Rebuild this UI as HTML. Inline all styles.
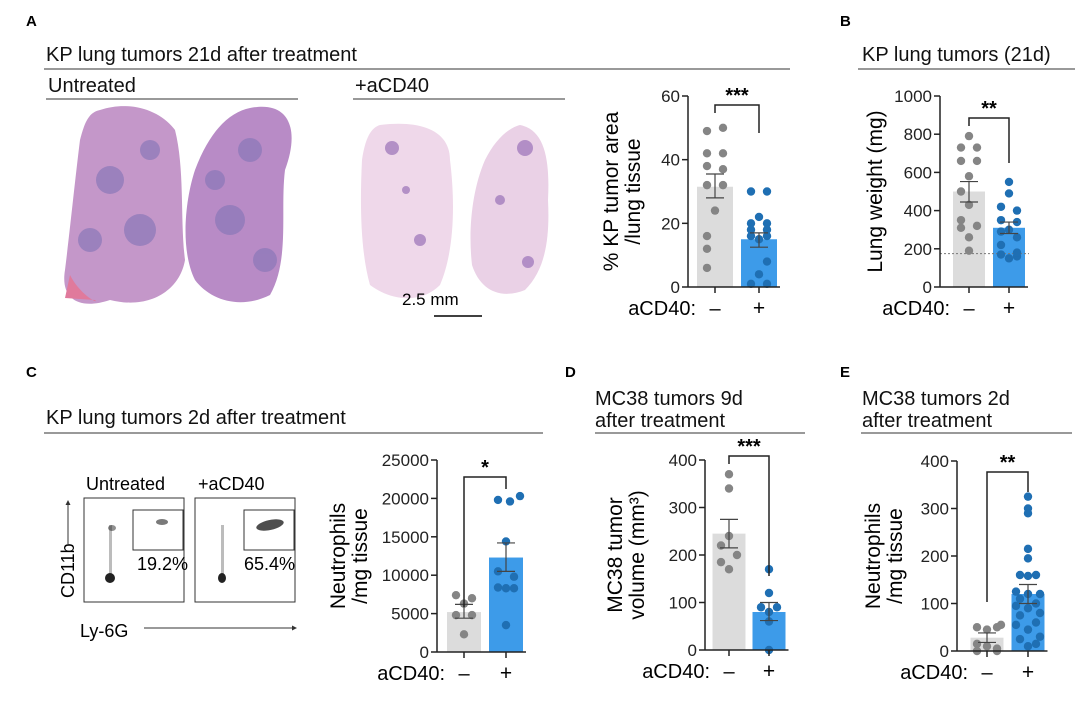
<!DOCTYPE html>
<html><head><meta charset="utf-8"><style>
html,body{margin:0;padding:0;background:#fff;}
svg{display:block;font-family:"Liberation Sans",sans-serif;}
</style></head><body>
<svg id="s" width="1080" height="707" xmlns="http://www.w3.org/2000/svg">
<rect width="1080" height="707" fill="#fff"/>
<g font-weight="bold" font-size="15">
<text x="26" y="26">A</text><text x="840" y="26">B</text><text x="26" y="377">C</text><text x="565" y="377">D</text><text x="840" y="377">E</text>
</g>
<g font-size="20" fill="#111">
<text x="46" y="61">KP lung tumors 21d after treatment</text>
<text x="48" y="92">Untreated</text>
<text x="355" y="92">+aCD40</text>
<text x="862" y="61">KP lung tumors (21d)</text>
<text x="46" y="424">KP lung tumors 2d after treatment</text>
<text x="595" y="405">MC38 tumors 9d</text><text x="595" y="427">after treatment</text>
<text x="862" y="405">MC38 tumors 2d</text><text x="862" y="427">after treatment</text>
</g>
<g stroke="#333" stroke-width="1">
<line x1="44" y1="69" x2="790" y2="69"/>
<line x1="46" y1="99" x2="298" y2="99"/>
<line x1="353" y1="99" x2="565" y2="99"/>
<line x1="858" y1="69" x2="1075" y2="69"/>
<line x1="44" y1="433" x2="543" y2="433"/>
<line x1="595" y1="433" x2="805" y2="433"/>
<line x1="861" y1="433" x2="1072" y2="433"/>
</g>
<!-- lungs -->
<g>
<path d="M100 110 C130 100 160 110 175 130 C185 170 180 220 185 260 C180 290 150 310 110 300 C80 310 60 300 65 270 C70 230 75 180 80 140 C85 120 90 112 100 110Z" fill="#c497c9"/>
<path d="M250 108 C290 100 300 130 285 170 C280 210 290 260 270 295 C240 310 210 300 195 280 C180 250 185 200 195 170 C210 130 230 112 250 108Z" fill="#b88bc6"/>
<path d="M70 275 C80 295 100 305 95 300 L65 298Z" fill="#e07a9c"/>
<g fill="#8a78b8" opacity="0.7">
<circle cx="110" cy="180" r="14"/><circle cx="140" cy="230" r="16"/><circle cx="90" cy="240" r="12"/><circle cx="150" cy="150" r="10"/>
<circle cx="250" cy="150" r="12"/><circle cx="230" cy="220" r="15"/><circle cx="265" cy="260" r="12"/><circle cx="215" cy="180" r="10"/>
</g>
<path d="M380 125 C420 120 450 130 450 160 C455 200 455 250 440 285 C420 305 390 300 370 285 C360 250 360 200 362 160 C365 140 370 128 380 125Z" fill="#efd8ea"/>
<path d="M520 125 C545 130 550 160 548 200 C550 240 545 270 525 290 C500 300 480 290 472 265 C468 230 472 190 485 160 C495 140 508 128 520 125Z" fill="#ead1e6"/>
<g fill="#9a72b8" opacity="0.7">
<circle cx="392" cy="148" r="7"/><circle cx="420" cy="240" r="6"/><circle cx="525" cy="148" r="8"/><circle cx="500" cy="200" r="5"/><circle cx="528" cy="262" r="6"/><circle cx="406" cy="190" r="4"/>
</g>
</g>
<text x="402" y="305" font-size="17">2.5 mm</text>
<line x1="434" y1="316" x2="482" y2="316" stroke="#000" stroke-width="1.5"/>
<!-- flow -->
<g fill="none" stroke="#333">
<rect x="84" y="498" width="100" height="104"/>
<rect x="195" y="498" width="100" height="104"/>
<rect x="133" y="510" width="50" height="40"/>
<rect x="244" y="510" width="50" height="40"/>
</g>
<g font-size="18">
<text x="86" y="490">Untreated</text><text x="198" y="490">+aCD40</text>
<text x="137" y="570">19.2%</text><text x="244" y="570">65.4%</text>
<text x="74" y="598" transform="rotate(-90 74 598)">CD11b</text>
<text x="80" y="637">Ly-6G</text>
</g>
<line x1="144" y1="628" x2="295" y2="628" stroke="#333"/>
<path d="M297 628 l-5 -2.5 v5z" fill="#333"/>
<line x1="68" y1="544" x2="68" y2="504" stroke="#333"/>
<path d="M68 500 l-2.5 5 h5z" fill="#333"/>
<g fill="#222">
<ellipse cx="110" cy="578" rx="5" ry="5"/><ellipse cx="112" cy="528" rx="4" ry="3" opacity="0.5"/><rect x="109" y="525" width="3" height="50" opacity="0.3"/>
<ellipse cx="162" cy="522" rx="6" ry="3" opacity="0.6"/>
<ellipse cx="222" cy="578" rx="4" ry="5"/><rect x="221" y="525" width="3" height="50" opacity="0.3"/>
<ellipse cx="270" cy="525" rx="14" ry="5" opacity="0.8" transform="rotate(-12 270 525)"/>
</g>
<g id="charts"></g>
</svg>
<script>
var ns="http://www.w3.org/2000/svg",G=document.getElementById("charts");
function el(t,a,txt){var e=document.createElementNS(ns,t);for(var k in a)e.setAttribute(k,a[k]);if(txt!==undefined)e.textContent=txt;G.appendChild(e);return e;}
function chart(o){
 var sy=function(v){return o.yb-(v/o.max)*(o.yb-o.yt);};
 var g1=o.gx, g2=o.bx, w=o.bw;
 el("rect",{x:g1-w/2,y:sy(o.gm),width:w,height:o.yb-sy(o.gm),fill:"#dcdcdc"});
 el("rect",{x:g2-w/2,y:sy(o.bm),width:w,height:o.yb-sy(o.bm),fill:"#3d9be9"});
 if(o.dot!==undefined) el("line",{x1:o.ax,x2:g2+w/2+4,y1:sy(o.dot),y2:sy(o.dot),stroke:"#777","stroke-dasharray":"2,2"});
 o.gd.forEach(function(d){el("circle",{cx:g1+d[1],cy:sy(d[0]),r:4.2,fill:"#858585"});});
 o.bd.forEach(function(d){el("circle",{cx:g2+d[1],cy:sy(d[0]),r:4.2,fill:"#1f6fb3"});});
 [[g1,o.gs],[g2,o.bs]].forEach(function(p){var a=sy(p[1][0]),b=sy(p[1][1]);
  el("line",{x1:p[0],x2:p[0],y1:a,y2:b,stroke:"#444","stroke-width":1.2});
  el("line",{x1:p[0]-9,x2:p[0]+9,y1:a,y2:a,stroke:"#444","stroke-width":1.2});
  el("line",{x1:p[0]-9,x2:p[0]+9,y1:b,y2:b,stroke:"#444","stroke-width":1.2});});
 el("line",{x1:o.ax,x2:o.ax,y1:o.yt,y2:o.yb,stroke:"#222","stroke-width":1.5});
 el("line",{x1:o.ax,x2:g2+w/2+3,y1:o.yb,y2:o.yb,stroke:"#222","stroke-width":1.5});
 [g1,g2].forEach(function(x){el("line",{x1:x,x2:x,y1:o.yb,y2:o.yb+6,stroke:"#222","stroke-width":1.5});});
 o.ticks.forEach(function(t){var y=sy(t);el("line",{x1:o.ax-6,x2:o.ax,y1:y,y2:y,stroke:"#222","stroke-width":1.5});
  el("text",{x:o.ax-8,y:y+6,"font-size":17,"text-anchor":"end",fill:"#222"},String(t));});
 el("text",{x:g1,y:o.yb+28,"font-size":20,"text-anchor":"middle"},"\u2013");
 el("text",{x:g2,y:o.yb+28,"font-size":21,"text-anchor":"middle"},"+");
 el("text",{x:g1-19,y:o.yb+28,"font-size":20,"text-anchor":"end"},"aCD40:");
 var by=o.bky;
 el("path",{d:"M"+g1+" "+(by+o.bkl)+"V"+by+"H"+g2+"V"+(by+o.bkr),fill:"none",stroke:"#222","stroke-width":1.5});
 el("text",{x:(g1+g2)/2,y:by-3,"font-size":20,"font-weight":"bold","text-anchor":"middle"},o.star);
 o.lab.forEach(function(l,i){var x=o.labx+i*22,y=(o.yt+o.yb)/2;
  el("text",{x:x,y:y,"font-size":21,"text-anchor":"middle",transform:"rotate(-90 "+x+" "+y+")"},l);});
}
chart({ax:688,yt:96,yb:287,max:60,ticks:[0,20,40,60],gx:715,bx:759,bw:36,gm:31.5,bm:15,gs:[28,35.5],bs:[12.5,17],
 gd:[[49,-8],[50,8],[42,-8],[42,8],[38,-8],[37,8],[32,-8],[32,8],[24,0],[16,-8],[12,-8],[6,-8]],
 bd:[[30,-8],[30,8],[22,0],[20,-8],[20,8],[18,-8],[18,8],[16,-8],[16,8],[15,0],[4,0],[1,-8],[1,8],[8,8]],
 bky:105,bkl:8,bkr:28,star:"***",lab:["% KP tumor area","/lung tissue"],labx:618});
chart({ax:940,yt:96,yb:287,max:1000,ticks:[0,200,400,600,800,1000],gx:969,bx:1009,bw:32,gm:500,bm:310,gs:[445,552],bs:[280,340],dot:175,
 gd:[[790,0],[730,-8],[730,8],[660,-8],[660,8],[580,0],[500,-8],[430,0],[350,-8],[320,8],[310,-8],[260,0],[190,0]],
 bd:[[550,0],[490,0],[420,-8],[400,8],[350,-8],[340,8],[300,0],[290,-8],[260,8],[220,-8],[170,-8],[160,8],[150,0],[180,8]],
 bky:118,bkl:8,bkr:45,star:"**",lab:["Lung weight (mg)"],labx:882});
chart({ax:437,yt:460,yb:652,max:25000,ticks:[0,5000,10000,15000,20000,25000],gx:464,bx:506,bw:34,gm:5200,bm:12300,gs:[4400,6200],bs:[10500,14200],
 gd:[[7400,-8],[7000,8],[6300,0],[4800,-8],[4800,8],[2300,0]],
 bd:[[20300,14],[19800,-8],[19600,4],[14400,0],[10500,-8],[9800,8],[8400,-8],[8300,8],[8300,0],[3500,0]],
 bky:477,bkl:130,bkr:12,star:"*",lab:["Neutrophils","/mg tissue"],labx:345});
chart({ax:705,yt:460,yb:650,max:400,ticks:[0,100,200,300,400],gx:729,bx:769,bw:33,gm:245,bm:80,gs:[215,275],bs:[62,100],
 gd:[[370,0],[340,0],[240,0],[220,-8],[200,8],[185,-8],[170,0]],
 bd:[[170,0],[120,0],[90,-8],[90,8],[80,0],[60,0],[0,0]],
 bky:456,bkl:8,bkr:120,star:"***",lab:["MC38 tumor","volume (mm\u00b3)"],labx:622});
chart({ax:957,yt:461,yb:651,max:400,ticks:[0,100,200,300,400],gx:987,bx:1028,bw:33,gm:28,bm:120,gs:[18,38],bs:[100,140],
 gd:[[50,-10],[45,0],[50,10],[55,14],[15,-10],[10,0],[5,10],[0,-10],[0,10]],
 bd:[[325,0],[300,0],[290,0],[215,0],[195,0],[160,-8],[160,8],[158,0],[125,-12],[120,0],[120,12],[110,-8],[100,8],[95,-12],[90,0],[80,12],[75,-8],[60,8],[55,-12],[45,0],[30,12],[25,-8],[15,8],[10,0]],
 bky:472,bkl:130,bkr:20,star:"**",lab:["Neutrophils","/mg tissue"],labx:880});
</script>
</body></html>
